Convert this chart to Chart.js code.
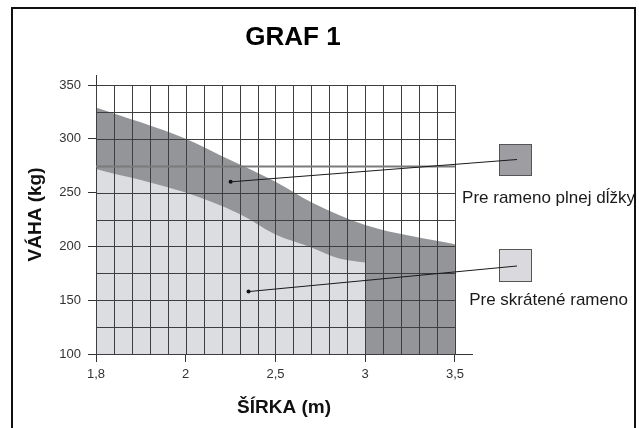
<!DOCTYPE html>
<html><head><meta charset="utf-8">
<script src="https://cdn.jsdelivr.net/npm/chart.js@4.4.0/dist/chart.umd.min.js"></script>
<style>
html,body{margin:0;padding:0;background:#fff;}
#wrap{position:relative;width:639px;height:428px;overflow:hidden;background:#fff;}
#frame{position:absolute;left:11px;top:7px;width:621px;height:440px;border:2px solid #111;pointer-events:none;}
canvas{position:absolute;left:0;top:0;}
</style></head><body>
<div id="wrap"><canvas id="c" width="639" height="428"></canvas><div id="frame"></div></div>
<script>
// ---- chart data ----
const chartTitle = 'GRAF 1';
const xTitle = 'ŠÍRKA (m)';
const yTitle = 'VÁHA (kg)';
const xTickLabels = ['1,8', '2', '2,5', '3', '3,5'];      // evenly spaced along the axis
const yTickValues = [100, 150, 200, 250, 300, 350];
const seriesNames = ['Pre rameno plnej dĺžky', 'Pre skrátené rameno'];
// position along the width axis: 0 = "1,8", 1 = "2", 2 = "2,5", 3 = "3", 4 = "3,5"
const fullArmPos  = [0, 1, 1.4, 2, 2.4, 3, 4];
const fullArmKg   = [329, 300, 284, 260, 241, 220, 202];
const shortArmPos = [0, 1, 1.6, 2, 2.4, 2.7, 3];
const shortArmKg  = [272, 250, 230, 211, 199, 189, 185];
const calloutPos  = [1.5, 1.7];
const calloutKg   = [260, 158];

const FONT = "'Liberation Sans', Arial, Helvetica, sans-serif";
Chart.defaults.font.family = FONT;

const toPts = (xs, ys) => xs.map((x, i) => ({x: x, y: ys[i]}));

const gridOverlay = {
  id: 'gridOverlay',
  afterDatasetsDraw(chart) {
    const {ctx, scales: {x, y}} = chart;
    const x0 = x.getPixelForValue(0), x1 = x.getPixelForValue(xTickLabels.length - 1);
    const y0 = y.getPixelForValue(yTickValues[0]), y1 = y.getPixelForValue(yTickValues[yTickValues.length - 1]);
    ctx.save();
    ctx.lineWidth = 1;
    ctx.strokeStyle = '#3e3e3e';
    for (let k = 0; k <= (xTickLabels.length - 1) * 5; k++) {
      const px = Math.round(x.getPixelForValue(k / 5)) + 0.5;
      ctx.beginPath(); ctx.moveTo(px, y0); ctx.lineTo(px, y1); ctx.stroke();
    }
    for (let v = yTickValues[0]; v <= yTickValues[yTickValues.length - 1]; v += 25) {
      const py = Math.round(y.getPixelForValue(v)) + 0.5;
      ctx.strokeStyle = v === 275 ? '#7a7a7a' : '#3e3e3e';
      ctx.lineWidth = v === 275 ? 2 : 1;
      ctx.beginPath(); ctx.moveTo(x0, py); ctx.lineTo(x1, py); ctx.stroke();
    }
    ctx.restore();
  }
};

const callouts = {
  id: 'callouts',
  afterDraw(chart) {
    const {ctx, scales: {x, y}, chartArea} = chart;
    const bx = chartArea.right + 27;
    const boxes = [
      {y: 144, h: 32, ty: 198, ly: 159.5},
      {y: 249, h: 33, ty: 300, ly: 266}
    ];
    ctx.save();
    boxes.forEach((b, i) => {
      const ds = chart.data.datasets[i];
      ctx.fillStyle = ds.legendColor;
      ctx.fillRect(bx, b.y, 33, b.h);
      ctx.strokeStyle = '#555';
      ctx.lineWidth = 1;
      ctx.strokeRect(bx + 0.5, b.y + 0.5, 32, b.h - 1);
      const ax = x.getPixelForValue(calloutPos[i]);
      const ay = y.getPixelForValue(calloutKg[i]);
      ctx.strokeStyle = '#1a1a1a';
      ctx.beginPath(); ctx.moveTo(ax, ay); ctx.lineTo(bx + 18, b.ly); ctx.stroke();
      ctx.fillStyle = '#111';
      ctx.beginPath(); ctx.arc(ax, ay, 2, 0, Math.PI * 2); ctx.fill();
      ctx.font = '17px ' + FONT;
      ctx.textAlign = 'center';
      ctx.textBaseline = 'middle';
      ctx.fillStyle = '#1a1a1a';
      ctx.fillText(ds.label, bx + 49.5, b.ty);
    });
    ctx.restore();
  }
};

new Chart(document.getElementById('c'), {
  type: 'line',
  data: {
    datasets: [
      {
        label: seriesNames[0],
        data: toPts(fullArmPos, fullArmKg),
        backgroundColor: '#949599',
        legendColor: '#9e9ea2',
        borderColor: 'rgba(0,0,0,0)',
        borderWidth: 0,
        pointRadius: 0,
        fill: 'start',
        cubicInterpolationMode: 'monotone',
        order: 2
      },
      {
        label: seriesNames[1],
        data: toPts(shortArmPos, shortArmKg),
        backgroundColor: '#dcdde1',
        legendColor: '#dadade',
        borderColor: 'rgba(0,0,0,0)',
        borderWidth: 0,
        pointRadius: 0,
        fill: 'start',
        cubicInterpolationMode: 'monotone',
        order: 1
      }
    ]
  },
  options: {
    responsive: false,
    devicePixelRatio: 1,
    animation: false,
    events: [],
    layout: {padding: {left: 0, right: 53, top: 0, bottom: 0}},
    plugins: {
      legend: {display: false},
      tooltip: {enabled: false},
      title: {
        display: true,
        text: chartTitle,
        color: '#000',
        font: {size: 26, weight: 'bold', family: FONT},
        padding: {top: 22.4, bottom: 21.4}
      }
    },
    scales: {
      x: {
        type: 'linear',
        bounds: 'data',
        min: 0,
        max: 4.19,
        afterBuildTicks: s => { s.ticks = xTickLabels.map((_, i) => ({value: i})); },
        afterFit: s => { s.height = 74; },
        ticks: {
          autoSkip: false, maxRotation: 0, padding: 5, color: '#333',
          font: {size: 13},
          callback: (v, i) => xTickLabels[i]
        },
        grid: {drawOnChartArea: false, drawTicks: true, tickLength: 8, color: '#333', lineWidth: 1},
        border: {display: true, color: '#333', width: 1},
        title: {display: true, text: xTitle, color: '#111', font: {size: 19, weight: 'bold'}, padding: {top: 0, bottom: 9}}
      },
      y: {
        type: 'linear',
        bounds: 'data',
        min: 100,
        max: 359.3,
        afterBuildTicks: s => { s.ticks = yTickValues.map(v => ({value: v})); },
        afterFit: s => { s.width = 96; },
        ticks: {padding: 7, color: '#333', font: {size: 13}},
        grid: {drawOnChartArea: false, drawTicks: true, tickLength: 8, color: '#333', lineWidth: 1},
        border: {display: true, color: '#333', width: 1},
        title: {display: true, text: yTitle, color: '#111', font: {size: 19, weight: 'bold'}, padding: {top: 24, bottom: 0}}
      },
      y2: {
        position: 'right',
        display: true,
        grid: {display: false, drawTicks: false},
        border: {display: false},
        ticks: {display: false},
        afterFit: s => { s.width = 114; }
      }
    }
  },
  plugins: [gridOverlay, callouts]
});
</script>
</body></html>
